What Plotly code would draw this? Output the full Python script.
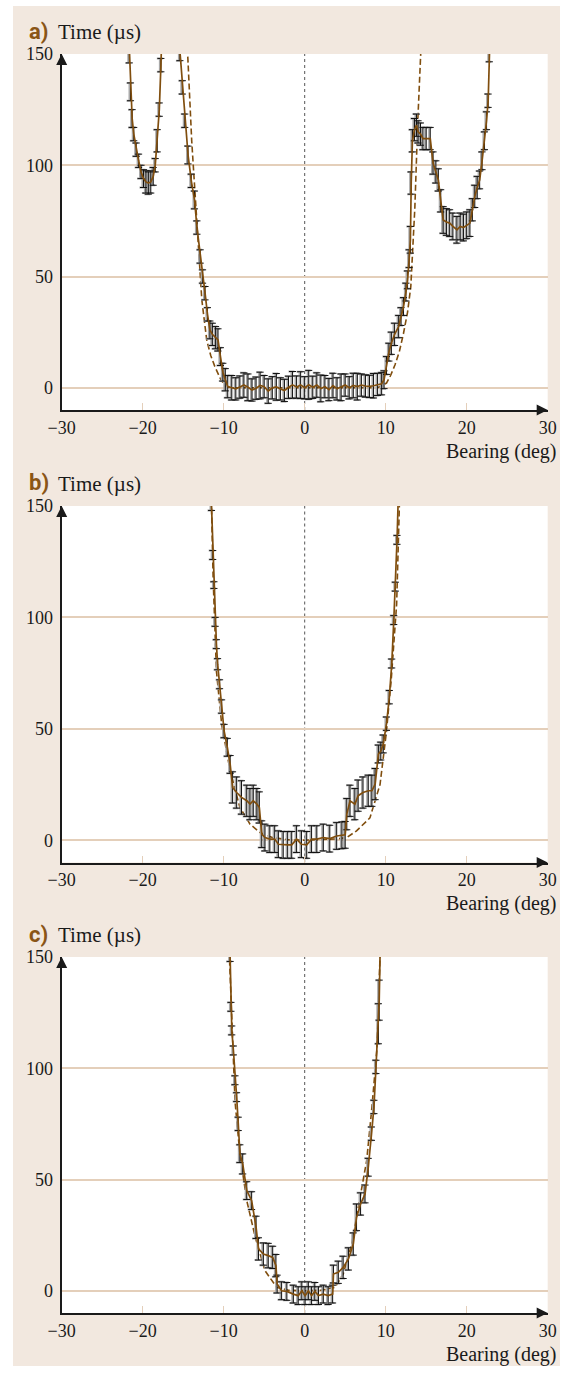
import plotly.graph_objects as go

# ---------------- data ----------------
# Panel a) -- left side lobe segment
a1_x = [-21.9, -21.65, -21.5, -21.3, -21.1, -20.8, -20.5, -20.2, -19.9, -19.6, -19.3,
        -19.0, -18.7, -18.45, -18.2, -17.95, -17.75, -17.55]
a1_y = [175, 149, 133, 121, 114, 107, 102, 97, 94, 92.5, 92, 92.5, 95, 100, 111, 125, 145, 170]
a1_e = [3, 3, 4, 4, 3, 3, 3, 3, 4, 5, 5, 5, 4, 3, 5, 3, 3, 3]

# Panel a) -- main segment
a2_x = [-15.7, -15.4, -15.1, -14.8, -14.4, -14.0, -13.6, -13.3, -12.9, -12.6, -12.3, -12.0,
        -11.7, -11.4, -11.0, -10.7, -10.4, -10.1, -9.8,
        -9.5, -9.0, -8.5, -8.0, -7.5, -7.0, -6.5, -6.0, -5.5, -5.0, -4.5, -4.0, -3.5, -3.0,
        -2.5, -2.0, -1.5, -1.0, -0.5, 0.0, 0.5, 1.0, 1.5, 2.0, 2.5, 3.0, 3.5, 4.0, 4.5, 5.0,
        5.5, 6.0, 6.5, 7.0, 7.5, 8.0, 8.5, 9.0, 9.5,
        9.8, 10.1, 10.4, 10.7, 11.1, 11.6, 11.9, 12.2, 12.5, 12.7, 12.9, 13.05, 13.15, 13.3,
        13.55, 13.8, 14.0, 14.3, 14.6, 15.0, 15.5, 15.85, 16.2, 16.5, 16.8, 17.1, 17.5, 17.9,
        18.3, 18.8, 19.2, 19.6, 20.0, 20.4, 20.7, 21.0, 21.3, 21.6, 21.9, 22.2, 22.45, 22.65,
        22.8, 22.95]
a2_y = [165, 150, 135, 120, 104.6, 93, 84.4, 72, 59, 50, 42.5, 33,
        26, 24, 22.5, 21.5, 14, 7, 3.6,
        0.5, 0.0, -0.5, 0.3, 1.2, 0.2, -1.0, -0.2, 1.0, 0.5, -1.5, 0.0, 0.4, -0.5,
        -1.2, 0.2, 1.3, 0.3, 1.2, 0.0, 1.3, 0.2, 1.2, -0.3, 0.5, -0.8, 1.0, -0.5, 0.2, 1.2,
        0.0, 1.0, 0.5, 1.2, 0.8, 0.6, 0.9, 1.5, 1.8,
        3.6, 10, 16, 20, 24, 27.5, 32, 36.5, 43, 48.5, 58, 66.5, 92, 111,
        116, 118, 115, 114, 112, 112, 112, 101, 97, 93.4, 84, 75.4, 74.5, 74,
        72.5, 71, 72.5, 72, 73, 74, 80, 86, 90, 93.4, 102, 111, 120, 129,
        149.5, 168]
a2_e = [3, 3, 3, 3, 4, 3, 4, 3, 3, 3, 3, 3,
        4, 5, 5, 5, 4, 4, 5,
        5, 5.5, 5, 5, 5.5, 6, 5, 5, 6, 5, 5.5, 5, 6, 5,
        5, 5, 6, 5, 6, 5, 6.5, 5, 5.5, 6, 5, 5, 5.5, 5, 6, 5,
        5, 5.5, 6, 5, 5, 5, 5.5, 5, 5,
        4, 4, 4, 5, 5, 5, 4, 4, 4, 4, 4, 6, 5, 5,
        5, 5, 5, 5, 5, 5, 5, 5, 5, 5, 5, 6, 6, 6,
        6, 6, 6, 6, 6, 6, 5, 5, 5, 4, 4, 4, 4, 3,
        3, 3]

# Panel a) -- model curve (dashed)
am_x = [-14.6, -14.45, -13.95, -13.5, -13.1, -12.7, -12.1, -11.6, -11.1, -10.4, -9.8, -9.0,
        0.0, 9.0, 10.1, 10.6, 11.15, 11.7, 12.2, 12.7, 13.1, 13.6, 13.95, 14.35, 14.5]
am_y = [165, 150, 111, 84.4, 63.4, 39.5, 21.5, 14.5, 9.6, 4, 0.6, 0,
        0, 0, 2.1, 5.5, 10.3, 16.5, 24.5, 34, 45.5, 81, 119, 149.5, 165]

# Panel b)
b_x = [-11.7, -11.5, -11.35, -11.2, -11.05, -10.9, -10.75, -10.5, -10.25, -9.95, -9.55, -9.2,
       -8.9, -8.4, -7.8, -7.15, -6.75, -6.35, -5.9, -5.6,
       -5.3, -4.9, -4.3, -3.7, -3.25, -2.65, -2.1, -1.6, -1.0, -0.4, 0.25, 0.85, 1.5, 2.3,
       3.1, 3.95, 4.6, 5.0,
       5.2, 5.6, 6.2, 6.6, 7.2, 7.85, 8.3, 8.7,
       9.1, 9.4, 9.7, 10.1, 10.45, 10.75, 11.0, 11.2, 11.4, 11.6]
b_y = [170, 150, 128, 114.5, 98, 88, 79, 70, 60, 49, 41.7, 34,
       23.7, 21.4, 19.2, 17.7, 16.2, 17.7, 16.2, 14.7,
       2.7, 1.2, 0.5, 0.5, -1.8, -2.1, -2.1, -2.1, 0.5, -1.8, -2.1, 0.5, 0.5, 1.2,
       0.7, 1.9, 2.2, 2.4,
       11.7, 17.7, 16.2, 20, 21.4, 22.2, 22.2, 25.2,
       38.7, 40, 43.2, 52.3, 64.2, 79.3, 98.8, 113.8, 134.8, 160]
b_e = [2, 2, 2, 1.5, 2, 2, 2.5, 2, 3, 3, 4, 4,
       7, 7, 7.5, 7, 7, 7, 7, 7,
       6, 6, 6, 6, 6, 6, 6, 6, 6, 6, 6, 6, 6, 6,
       6, 6, 6, 6,
       7, 7, 7, 7, 7, 7, 7, 7,
       4, 4, 4, 3, 3, 2, 2, 2, 2, 2]
bm_x = [-11.6, -11.5, -11.3, -10.9, -10.25, -9.2, -8.0, -6.75, -5.5, -4.0, -2.0, 0.0,
        2.0, 4.0, 5.2, 6.4, 8.05, 9.3, 10.1, 10.7, 11.35, 11.7, 11.8]
bm_y = [165, 150, 117, 76, 52, 31, 14.7, 7.2, 3.4, 1.2, 0.2, 0,
        0.2, 0.6, 1.2, 4.2, 10, 25, 49, 73, 106, 150, 165]

# Panel c)
c_x = [-9.3, -9.2, -9.1, -9.0, -8.8, -8.6, -8.4, -8.2, -8.0, -7.65, -7.15, -6.55,
       -6.0, -5.7, -5.1, -4.5, -3.95, -3.55, -3.4,
       -2.85, -2.2, -1.4, -0.8, -0.35, 0.05, 0.45, 0.85, 1.25, 1.7, 2.3, 2.9, 3.45,
       3.55, 4.15, 4.75, 5.4, 6.0, 6.4, 6.9,
       7.45, 7.85, 8.25, 8.55, 8.8, 9.1, 9.2, 9.35]
c_y = [165, 150, 127.6, 117, 108, 94.6, 87, 75, 61.6, 57, 45, 40.5,
       28.5, 18.8, 16.5, 15.8, 15, 11.3, 3,
       0, -0.3, -1.5, -2.2, 0, -2.2, 0, -2.2, -0.3, -2.2, -1.5, -2.2, -1.5,
       7.5, 8.3, 10.5, 14.3, 21, 33, 39,
       43.5, 55.5, 70.6, 82.6, 100.6, 120, 130.6, 160]
c_e = [2, 2, 2, 2, 2, 2, 2, 3, 4, 4.5, 4, 4,
       5, 5, 5, 5.5, 5, 5, 4,
       4, 4, 4, 4, 4, 4, 4, 4, 4, 4, 4, 4, 4,
       4, 5, 5, 5, 5, 6, 5,
       4, 4, 3, 3, 3, 9, 9, 3]
cm_x = [-9.45, -9.3, -8.95, -8.6, -8.0, -7.15, -6.1, -4.9, -3.45, -2.0, 0.0,
        2.0, 3.75, 4.75, 5.8, 6.8, 7.65, 8.3, 8.9, 9.3, 9.4]
cm_y = [165, 150, 115, 85, 61.5, 40.5, 24, 9, 1.5, 0.2, 0,
        0.2, 1.5, 7.5, 21, 40.5, 58.5, 82.5, 108, 150, 165]

# dashed zero reference line extents per panel
zero_extent = [(-23.8, 24.4), (-14.4, 17.1), (-9.3, 9.3)]
panel_labels = ["a)", "b)", "c)"]
x_ticks = [-30, -20, -10, 0, 10, 20, 30]
y_ticks = [0, 50, 100, 150]
x_range = [-30, 30]
y_range = [-10, 150]

# ---------------- layout geometry ----------------
W, H = 572, 1373
BROWN = "#804e0e"
BEIGE = "#f2e8df"
GRID = "#e4cfba"
LABEL_BROWN = "#8a5516"
SERIF = "Liberation Serif, DejaVu Serif, serif"
SHADOW_DX = -0.13   # small horizontal offset (deg) of the grey shadow of each error bar

x_dom = [61.7 / W, 547.7 / W]
panel_px = [(54, 410), (506, 862.5), (957, 1313)]  # top, bottom pixel rows

panels = [
    ([(a1_x, a1_y, a1_e), (a2_x, a2_y, a2_e)], (am_x, am_y)),
    ([(b_x, b_y, b_e)], (bm_x, bm_y)),
    ([(c_x, c_y, c_e)], (cm_x, cm_y)),
]

fig = go.Figure()
shapes = [dict(type="rect", xref="paper", yref="paper", x0=13 / W, x1=560 / W,
               y0=1 - 1366 / H, y1=1 - 6 / H, fillcolor=BEIGE, line=dict(width=0),
               layer="below")]
annotations = []

for i, (segs, model) in enumerate(panels):
    k = "" if i == 0 else str(i + 1)
    xa, ya = "x" + k, "y" + k
    top, bot = panel_px[i]
    fig.update_layout(**{
        "xaxis" + k: dict(domain=x_dom, range=x_range, anchor=ya, tickvals=x_ticks,
                          showgrid=False, zeroline=False, showline=True, linecolor="#1a1a1a",
                          linewidth=2, ticks="inside", ticklen=7, tickwidth=1.5,
                          tickcolor=GRID, tickfont=dict(family=SERIF, size=18, color="#1a1a1a"),
                          ticklabelstandoff=0, automargin=False, fixedrange=True),
        "yaxis" + k: dict(domain=[1 - bot / H, 1 - top / H], range=y_range, anchor=xa,
                          tickvals=y_ticks, showgrid=True, gridcolor=GRID, gridwidth=2,
                          zeroline=False, showline=True, linecolor="#1a1a1a", linewidth=2,
                          ticks="", tickfont=dict(family=SERIF, size=18, color="#1a1a1a"),
                          ticklabelstandoff=3, automargin=False, fixedrange=True),
    })
    # white plotting area
    shapes.append(dict(type="rect", xref=xa + " domain", yref=ya + " domain", x0=0, x1=1,
                       y0=0, y1=1, fillcolor="white", line=dict(width=0), layer="below"))
    # vertical dotted line at 0 bearing
    shapes.append(dict(type="line", xref=xa, yref=ya, x0=0, x1=0, y0=y_range[0], y1=y_range[1],
                       line=dict(color="#555555", width=1, dash="3px,3px"), layer="below"))
    # horizontal dashed zero line
    z0, z1 = zero_extent[i]
    shapes.append(dict(type="line", xref=xa, yref=ya, x0=z0, x1=z1, y0=0, y1=0,
                       line=dict(color="#111111", width=1, dash="3px,2px"), layer="below"))

    # model curve
    fig.add_trace(go.Scatter(x=model[0], y=model[1], mode="lines", xaxis=xa, yaxis=ya,
                             line=dict(color=BROWN, width=1.6, dash="6px,3px"),
                             showlegend=False, hoverinfo="skip"))
    for sx, sy, se in segs:
        # grey shadow of the error bars
        fig.add_trace(go.Scatter(x=[v + SHADOW_DX for v in sx], y=sy, mode="markers",
                                 xaxis=xa, yaxis=ya,
                                 marker=dict(size=1, color="rgba(0,0,0,0)"),
                                 error_y=dict(type="data", array=se, color="#a8a8a8",
                                              thickness=2, width=3),
                                 showlegend=False, hoverinfo="skip"))
        # error bars
        fig.add_trace(go.Scatter(x=sx, y=sy, mode="markers", xaxis=xa, yaxis=ya,
                                 marker=dict(size=1, color="rgba(0,0,0,0)"),
                                 error_y=dict(type="data", array=se, color="#111111",
                                              thickness=1, width=3.5),
                                 showlegend=False, hoverinfo="skip"))
        # measured line
        fig.add_trace(go.Scatter(x=sx, y=sy, mode="lines", xaxis=xa, yaxis=ya,
                                 line=dict(color=BROWN, width=1.7),
                                 showlegend=False, hoverinfo="skip"))

    # axis arrowheads
    annotations.append(dict(x=x_range[0], y=y_range[1], xref=xa, yref=ya, text="",
                            showarrow=True, ax=0, ay=12, arrowhead=2, arrowsize=1.1,
                            arrowwidth=2, arrowcolor="#1a1a1a", standoff=0))
    annotations.append(dict(x=x_range[1], y=y_range[0], xref=xa, yref=ya, text="",
                            showarrow=True, ax=-12, ay=0, arrowhead=2, arrowsize=1.1,
                            arrowwidth=2, arrowcolor="#1a1a1a", standoff=0))
    # panel labels
    ly = top - 23
    annotations.append(dict(x=27 / W, y=1 - ly / H, xref="paper", yref="paper",
                            text="<b>" + panel_labels[i] + "</b>", showarrow=False,
                            xanchor="left", yanchor="middle",
                            font=dict(family="Liberation Sans Narrow, Roboto, sans-serif",
                                      size=22, color=LABEL_BROWN)))
    annotations.append(dict(x=56 / W, y=1 - (ly + 1) / H, xref="paper", yref="paper",
                            text="Time (µs)", showarrow=False, xanchor="left",
                            yanchor="middle", font=dict(family=SERIF, size=21, color="#1a1a1a")))
    annotations.append(dict(x=559 / W, y=1 - (bot + 41) / H, xref="paper", yref="paper",
                            text="Bearing (deg)", showarrow=False, xanchor="right",
                            yanchor="middle", font=dict(family=SERIF, size=20, color="#1a1a1a")))

fig.update_layout(width=W, height=H, margin=dict(l=0, r=0, t=0, b=0, autoexpand=False),
                  paper_bgcolor="white", plot_bgcolor="white", showlegend=False,
                  shapes=shapes, annotations=annotations)

fig.write_html("out.html", config={"displayModeBar": False, "staticPlot": True},
               post_script="document.body.style.margin='0';document.body.style.padding='0';"
                           "document.documentElement.style.overflow='hidden';")
